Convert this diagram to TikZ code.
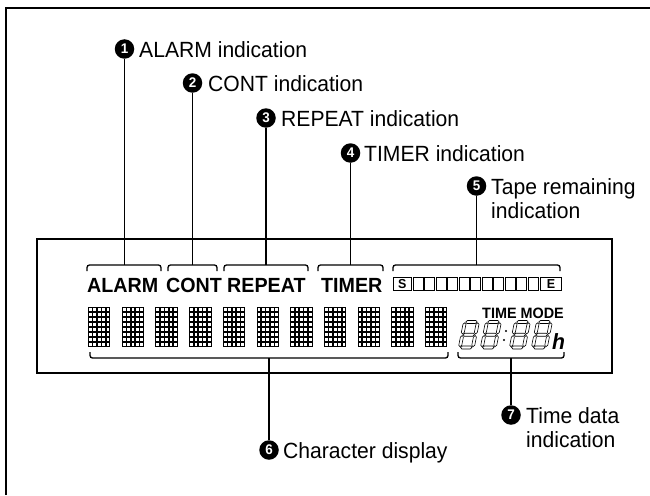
\documentclass[tikz,border=0pt]{standalone}
\usepackage{fontspec}
\setmainfont[FakeStretch=0.96]{Liberation Sans}
\newcommand\hseg[3]{\draw[segsty] (#1,#3) -- (#1+1.5,#3-1.5) -- (#2-1.5,#3-1.5) -- (#2,#3) -- (#2-1.5,#3+1.5) -- (#1+1.5,#3+1.5) -- cycle;}
\newcommand\vseg[3]{\draw[segsty] (#1,#2) -- (#1+1.5,#2+1.5) -- (#1+1.5,#3-1.5) -- (#1,#3) -- (#1-1.5,#3-1.5) -- (#1-1.5,#2+1.5) -- cycle;}
\newcommand\segdigit[2]{%
  \begin{scope}[shift={(#1,#2)}, xslant=0.2]
    \hseg{2.3}{13.7}{-27}
    \hseg{2.3}{13.7}{-14.25}
    \hseg{2.3}{13.7}{-1.5}
    \vseg{1.5}{-26.2}{-15.05}
    \vseg{14.5}{-26.2}{-15.05}
    \vseg{1.5}{-13.45}{-2.3}
    \vseg{14.5}{-13.45}{-2.3}
  \end{scope}}
\begin{document}
\begin{tikzpicture}[x=1pt,y=-1pt,
  lead/.style={line width=1.4pt},
  brk/.style={line width=1.3pt, rounded corners=2.5pt},
  num/.style={circle, fill=black, inner sep=0pt, minimum size=19.5pt, text=white,
    font=\fontsize{14}{14}\selectfont\bfseries},
  lab/.style={anchor=base west, inner sep=0pt, font=\fontsize{22}{24}\selectfont},
  lcd/.style={anchor=base west, inner sep=0pt, font=\fontsize{20.5}{22}\selectfont\bfseries},
  segsty/.style={draw=black, fill=white, line width=0.6pt, line join=miter},
  dotcell/.style={draw=black, fill=white, line width=0.5pt},
  tbox/.style={draw=black, line width=0.8pt}]
\useasboundingbox (0,0) rectangle (650,495);
% frame (left and top only)
\draw[line width=1.5pt] (6,495) -- (6,8) -- (650,8);
% LCD panel
\draw[line width=1.3pt] (37,239) rectangle (612,373);

% callouts
\node[num] (c1) at (124.5,49) {1};
\node[lab] (t1) at (139,57) {ALARM indication};
\node[num] (c2) at (192.5,83) {2};
\node[lab] (t2) at (208,91) {CONT indication};
\node[num] (c3) at (266,118) {3};
\node[lab] (t3) at (281,126) {REPEAT indication};
\node[num] (c4) at (350.5,153) {4};
\node[lab] (t4) at (364,161) {TIMER indication};
\node[num] (c5) at (476.5,186) {5};
\node[lab] (t5) at (491,194) {Tape remaining};
\node[lab] (t5b) at (491,218) {indication};
\node[num] (c6) at (269,450) {6};
\node[lab] (t6) at (283,458) {Character display};
\node[num] (c7) at (511,415) {7};
\node[lab] (t7) at (526,423) {Time data};
\node[lab] (t7b) at (526,447) {indication};

% bracket centres
\coordinate (b1) at (124.5,265);
\coordinate (b2) at (192.5,265);
\coordinate (b3) at (266,265);
\coordinate (b4) at (350.5,265);
\coordinate (b5) at (476.5,265);
\coordinate (b6) at (269,358);
\coordinate (b7) at (511,358);

% top brackets
\draw[brk] (87,271) -- (87,265) -- (161,265) -- (161,271);
\draw[brk] (168,271) -- (168,265) -- (217,265) -- (217,271);
\draw[brk] (224,271) -- (224,265) -- (308,265) -- (308,271);
\draw[brk] (318,271) -- (318,265) -- (383,265) -- (383,271);
\draw[brk] (393,271) -- (393,265) -- (560,265) -- (560,271);
% bottom brackets
\draw[brk] (90,352) -- (90,358) -- (448,358) -- (448,352);
\draw[brk] (458,352) -- (458,358) -- (564,358) -- (564,352);

% leader lines
\draw[lead] (c1.south) -- (b1);
\draw[lead] (c2.south) -- (b2);
\draw[lead] (c3.south) -- (b3);
\draw[lead] (c4.south) -- (b4);
\draw[lead] (c5.south) -- (b5);
\draw[lead] (b6) -- (c6.north);
\draw[lead] (b7) -- (c7.north);

% indicator words
\node[lcd] (w1) at (87,292) {ALARM};
\node[lcd] (w2) at (166,292) {CONT};
\node[lcd] (w3) at (227,292) {REPEAT};
\node[lcd] (w4) at (321,292) {TIMER};

% tape remaining bar
\draw[tbox] (393.5,277) rectangle (411,290.5);
\node[inner sep=0pt, font=\fontsize{13}{13}\selectfont\bfseries] (ws) at (402.2,283.8) {S};
\foreach \k in {0,...,10}{
  \draw[line width=0.6pt] ({413+\k*11.5},277.5) rectangle ({413+\k*11.5+9.8},290.5);
}
\draw[tbox] (540.5,277) rectangle (561.5,290.5);
\node[inner sep=0pt, font=\fontsize{13}{13}\selectfont\bfseries] (we) at (551,283.8) {E};

% dot-matrix characters
\foreach \i in {0,...,10}{
  \foreach \c in {0,...,4}{
    \foreach \r in {0,...,7}{
      \draw[dotcell] ({88+33.7*\i+\c*4.4+0.3},{307+\r*5+0.3}) rectangle ++(3.8,4.4);
    }
  }
}

% time mode
\node[anchor=base east, inner sep=0pt, font=\fontsize{15}{15}\selectfont\bfseries] (tm) at (564,318) {TIME MODE};
\segdigit{458}{349}
\segdigit{480}{349}
\fill (506,331) circle (1.1);
\fill (504,340) circle (1.1);
\segdigit{509}{349}
\segdigit{531}{349}
\node[anchor=base west, inner sep=0pt, font=\fontsize{22}{22}\selectfont\bfseries\itshape] (hh) at (552,349) {h};
\end{tikzpicture}
\end{document}
